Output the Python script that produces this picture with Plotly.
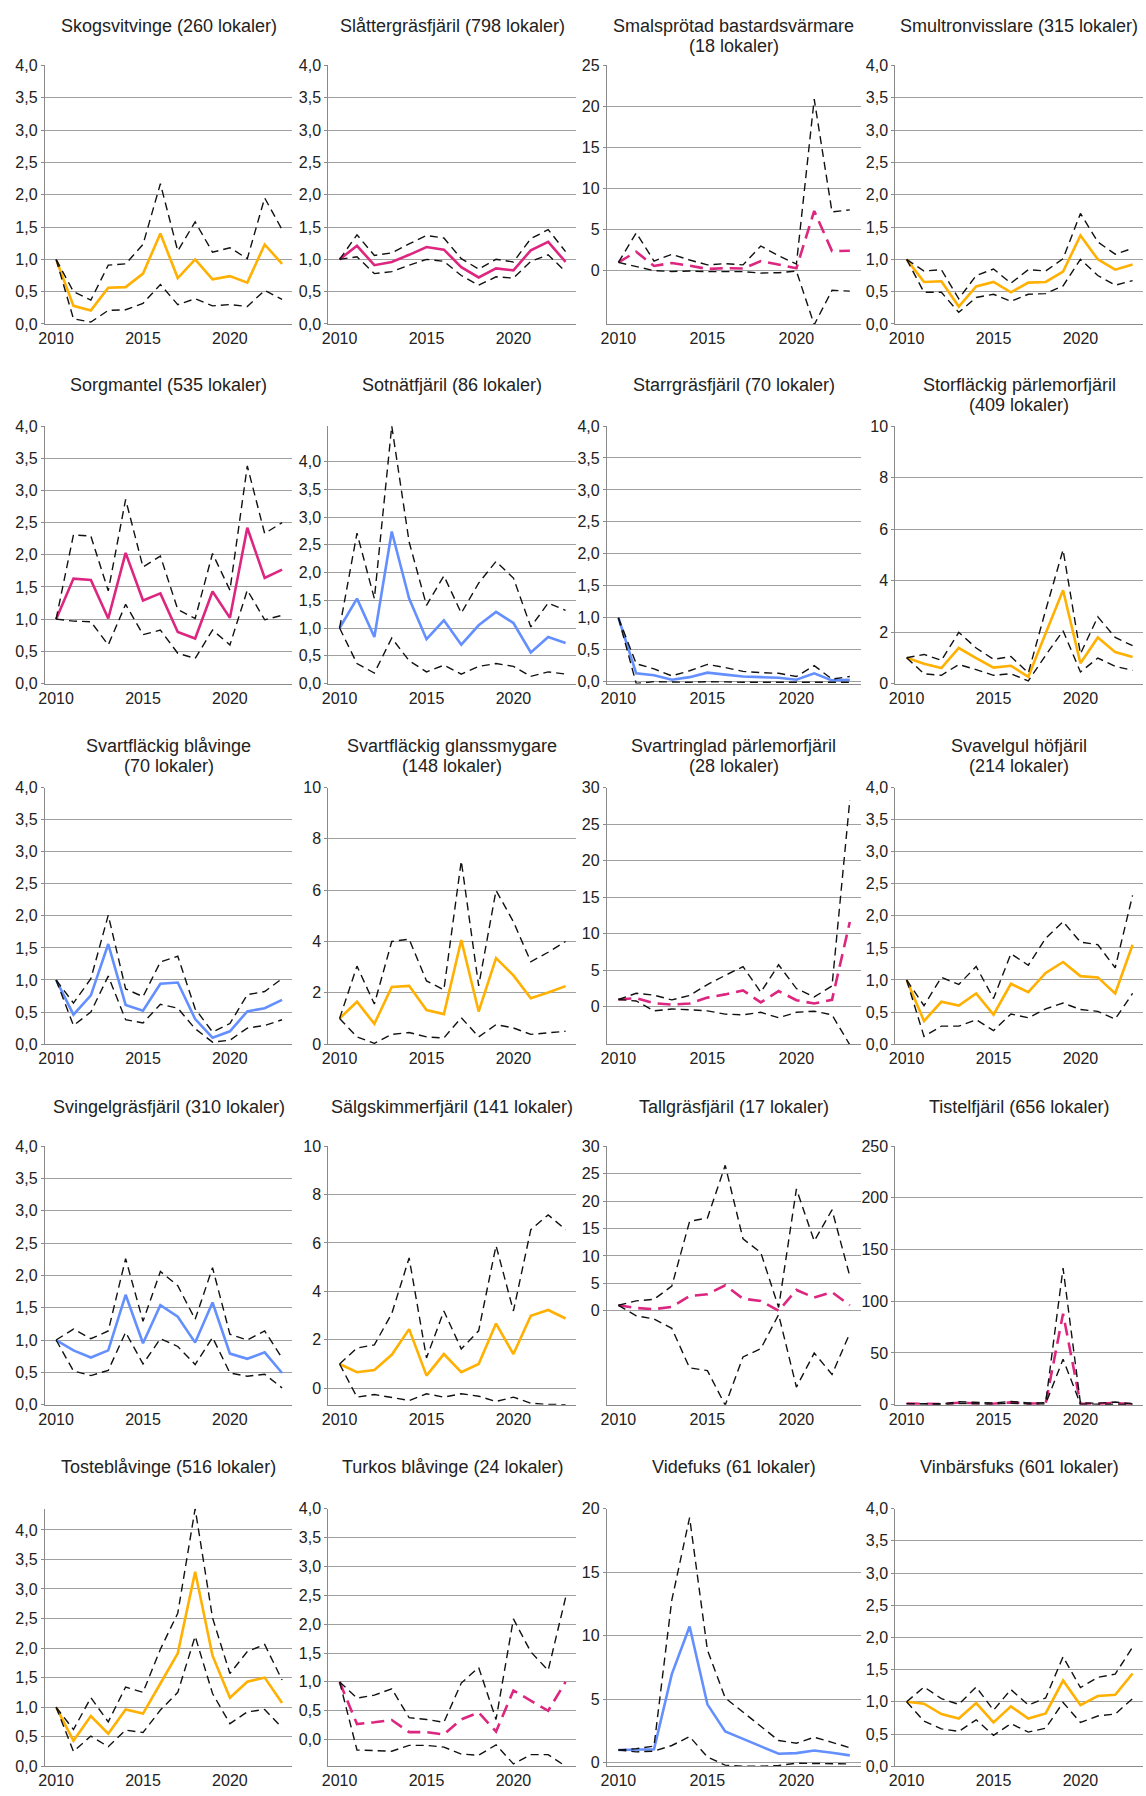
import plotly.graph_objects as go

years = list(range(2010, 2024))

species = ["Skogsvitvinge", "Slåttergräsfjäril", "Smalsprötad bastardsvärmare", "Smultronvisslare",
           "Sorgmantel", "Sotnätfjäril", "Starrgräsfjäril", "Storfläckig pärlemorfjäril",
           "Svartfläckig blåvinge", "Svartfläckig glanssmygare", "Svartringlad pärlemorfjäril", "Svavelgul höfjäril",
           "Svingelgräsfjäril", "Sälgskimmerfjäril", "Tallgräsfjäril", "Tistelfjäril",
           "Tosteblåvinge", "Turkos blåvinge", "Videfuks", "Vinbärsfuks"]
lokaler = [260, 798, 18, 315, 535, 86, 70, 409, 70, 148, 28, 214, 310, 141, 17, 656, 516, 24, 61, 601]
wrapped = {"Smalsprötad bastardsvärmare", "Storfläckig pärlemorfjäril", "Svartfläckig blåvinge",
           "Svartfläckig glanssmygare", "Svartringlad pärlemorfjäril", "Svavelgul höfjäril"}

skogsvitvinge_mid = [1.0, 0.28, 0.21, 0.56, 0.57, 0.78, 1.40, 0.71, 1.00, 0.69, 0.74, 0.64, 1.23, 0.93]
skogsvitvinge_hi = [1.0, 0.50, 0.37, 0.91, 0.93, 1.23, 2.17, 1.13, 1.58, 1.11, 1.18, 1.01, 1.95, 1.46]
skogsvitvinge_lo = [1.0, 0.08, 0.03, 0.21, 0.22, 0.32, 0.61, 0.30, 0.39, 0.28, 0.30, 0.27, 0.52, 0.38]

slattergras_mid = [1.0, 1.21, 0.91, 0.96, 1.07, 1.19, 1.15, 0.88, 0.72, 0.86, 0.83, 1.14, 1.27, 0.96]
slattergras_hi = [1.0, 1.38, 1.06, 1.10, 1.24, 1.37, 1.33, 1.01, 0.85, 1.00, 0.96, 1.32, 1.46, 1.12]
slattergras_lo = [1.0, 1.04, 0.78, 0.81, 0.91, 1.00, 0.97, 0.75, 0.60, 0.73, 0.71, 0.97, 1.07, 0.81]

smalsprotad_mid = [1.0, 2.3, 0.57, 0.93, 0.6, 0.2, 0.3, 0.25, 1.17, 0.7, 0.3, 7.27, 2.38, 2.42]
smalsprotad_hi = [1.0, 4.6, 1.17, 1.98, 1.3, 0.7, 0.85, 0.7, 3.0, 1.8, 0.8, 20.9, 7.15, 7.4]
smalsprotad_lo = [1.0, 0.5, 0.0, -0.1, -0.05, -0.12, -0.12, -0.12, -0.3, -0.25, -0.05, -6.6, -2.4, -2.5]

smultron_mid = [1.0, 0.65, 0.66, 0.27, 0.58, 0.65, 0.49, 0.64, 0.65, 0.81, 1.37, 1.00, 0.84, 0.92]
smultron_hi = [1.0, 0.82, 0.84, 0.39, 0.75, 0.85, 0.63, 0.84, 0.82, 1.01, 1.71, 1.27, 1.08, 1.17]
smultron_lo = [1.0, 0.49, 0.49, 0.18, 0.41, 0.46, 0.35, 0.46, 0.47, 0.59, 1.00, 0.75, 0.60, 0.67]

sorgmantel_mid = [1.0, 1.63, 1.61, 1.01, 2.03, 1.29, 1.40, 0.80, 0.70, 1.43, 1.02, 2.42, 1.64, 1.77]
sorgmantel_hi = [1.0, 2.31, 2.29, 1.44, 2.86, 1.81, 1.98, 1.15, 1.01, 2.02, 1.45, 3.38, 2.33, 2.50]
sorgmantel_lo = [1.0, 0.97, 0.96, 0.60, 1.23, 0.76, 0.83, 0.47, 0.39, 0.83, 0.60, 1.45, 0.99, 1.06]

sotnat_mid = [1.0, 1.53, 0.84, 2.74, 1.53, 0.80, 1.14, 0.70, 1.05, 1.29, 1.09, 0.56, 0.84, 0.73]
sotnat_hi = [1.0, 2.71, 1.53, 4.64, 2.55, 1.41, 1.94, 1.27, 1.81, 2.20, 1.90, 1.02, 1.45, 1.32]
sotnat_lo = [1.0, 0.36, 0.19, 0.82, 0.41, 0.21, 0.33, 0.17, 0.31, 0.36, 0.31, 0.13, 0.21, 0.17]

starrgras_mid = [1.0, 0.13, 0.10, 0.03, 0.07, 0.14, 0.11, 0.08, 0.07, 0.06, 0.03, 0.13, 0.02, 0.03]
starrgras_hi = [1.0, 0.28, 0.20, 0.09, 0.17, 0.27, 0.22, 0.16, 0.14, 0.13, 0.08, 0.25, 0.04, 0.08]
starrgras_lo = [1.0, -0.03, 0.0, -0.01, -0.01, 0.0, -0.01, -0.01, -0.01, -0.01, -0.01, -0.01, -0.01, -0.01]

storflackig_mid = [1.0, 0.77, 0.60, 1.38, 0.99, 0.62, 0.69, 0.26, 1.95, 3.62, 0.79, 1.79, 1.22, 1.03]
storflackig_hi = [1.0, 1.13, 0.90, 1.99, 1.38, 0.94, 1.05, 0.41, 2.85, 5.19, 1.15, 2.59, 1.79, 1.47]
storflackig_lo = [1.0, 0.38, 0.32, 0.74, 0.54, 0.32, 0.38, 0.10, 1.10, 2.05, 0.45, 0.99, 0.67, 0.51]

svartfl_blav_mid = [1.0, 0.46, 0.76, 1.56, 0.61, 0.52, 0.94, 0.96, 0.39, 0.10, 0.20, 0.51, 0.56, 0.69]
svartfl_blav_hi = [1.0, 0.64, 1.02, 2.01, 0.86, 0.74, 1.28, 1.37, 0.55, 0.19, 0.32, 0.77, 0.82, 1.02]
svartfl_blav_lo = [1.0, 0.29, 0.50, 1.06, 0.38, 0.33, 0.62, 0.56, 0.24, 0.03, 0.06, 0.25, 0.29, 0.38]

glanssmygare_mid = [1.0, 1.65, 0.79, 2.23, 2.27, 1.33, 1.17, 4.06, 1.27, 3.35, 2.68, 1.79, 2.01, 2.26]
glanssmygare_hi = [1.0, 3.04, 1.56, 4.00, 4.09, 2.46, 2.12, 7.14, 2.27, 5.99, 4.77, 3.21, 3.58, 4.00]
glanssmygare_lo = [1.0, 0.28, 0.03, 0.38, 0.45, 0.28, 0.24, 1.03, 0.28, 0.76, 0.63, 0.38, 0.44, 0.50]

svartringlad_mid = [1.0, 1.2, 0.5, 0.3, 0.45, 1.26, 1.7, 2.25, 0.6, 2.15, 0.9, 0.45, 0.95, 11.6]
svartringlad_hi = [1.0, 1.85, 1.6, 0.95, 1.55, 3.05, 4.3, 5.5, 2.0, 5.75, 2.5, 1.35, 2.85, 28.3]
svartringlad_lo = [1.0, 0.8, -0.55, -0.3, -0.4, -0.55, -1.0, -1.1, -0.75, -1.5, -0.75, -0.6, -1.1, -5.2]

svavelgul_mid = [1.0, 0.36, 0.66, 0.60, 0.79, 0.46, 0.94, 0.81, 1.11, 1.28, 1.06, 1.04, 0.79, 1.55]
svavelgul_hi = [1.0, 0.60, 1.04, 0.93, 1.21, 0.71, 1.41, 1.23, 1.65, 1.91, 1.59, 1.55, 1.19, 2.32]
svavelgul_lo = [1.0, 0.12, 0.28, 0.28, 0.38, 0.21, 0.47, 0.41, 0.55, 0.64, 0.54, 0.51, 0.39, 0.79]

svingelgras_mid = [1.0, 0.84, 0.73, 0.84, 1.70, 0.95, 1.54, 1.36, 0.96, 1.58, 0.79, 0.71, 0.81, 0.49]
svingelgras_hi = [1.0, 1.17, 1.02, 1.14, 2.26, 1.29, 2.06, 1.84, 1.32, 2.12, 1.09, 1.00, 1.14, 0.72]
svingelgras_lo = [1.0, 0.52, 0.45, 0.53, 1.12, 0.63, 1.02, 0.90, 0.62, 1.04, 0.49, 0.44, 0.47, 0.26]

salgskimmer_mid = [1.0, 0.66, 0.75, 1.38, 2.44, 0.52, 1.41, 0.66, 1.00, 2.67, 1.41, 2.99, 3.23, 2.88]
salgskimmer_hi = [1.0, 1.66, 1.79, 3.08, 5.38, 1.25, 3.19, 1.62, 2.37, 5.89, 3.19, 6.55, 7.16, 6.55]
salgskimmer_lo = [1.0, -0.37, -0.26, -0.37, -0.51, -0.23, -0.37, -0.23, -0.33, -0.55, -0.37, -0.62, -0.67, -0.68]

tallgras_mid = [1.0, 0.5, 0.3, 0.7, 2.7, 3.0, 4.65, 2.2, 1.8, 0.0, 3.8, 2.4, 3.4, 1.0]
tallgras_hi = [1.0, 1.8, 2.1, 4.5, 16.3, 16.9, 26.5, 13.1, 10.6, 0.6, 22.2, 12.7, 18.4, 6.3]
tallgras_lo = [1.0, -0.9, -1.5, -3.2, -10.4, -10.9, -17.2, -8.4, -6.9, -0.7, -13.9, -7.7, -11.6, -4.1]

tistel_mid = [1.0, 0.6, 0.5, 1.8, 1.3, 0.9, 2.2, 1.0, 1.2, 88.0, 1.0, 0.9, 1.6, 0.4]
tistel_hi = [1.0, 1.0, 0.8, 2.8, 2.0, 1.5, 3.2, 1.6, 1.8, 132.0, 1.6, 1.4, 2.5, 0.8]
tistel_lo = [1.0, 0.3, 0.3, 1.1, 0.7, 0.5, 1.4, 0.6, 0.7, 44.0, 0.6, 0.5, 1.0, 0.2]

toste_mid = [1.0, 0.43, 0.85, 0.55, 0.96, 0.89, 1.40, 1.91, 3.29, 1.87, 1.16, 1.43, 1.50, 1.07]
toste_hi = [1.0, 0.62, 1.16, 0.75, 1.34, 1.25, 1.98, 2.59, 4.36, 2.51, 1.57, 1.94, 2.06, 1.46]
toste_lo = [1.0, 0.25, 0.51, 0.33, 0.61, 0.57, 0.95, 1.25, 2.20, 1.23, 0.72, 0.92, 0.96, 0.65]

turkos_mid = [1.0, 0.27, 0.30, 0.34, 0.13, 0.13, 0.09, 0.35, 0.47, 0.14, 0.85, 0.67, 0.50, 1.00]
turkos_hi = [1.0, 0.72, 0.77, 0.88, 0.38, 0.35, 0.30, 0.98, 1.25, 0.35, 2.09, 1.52, 1.20, 2.46]
turkos_lo = [1.0, -0.18, -0.19, -0.20, -0.10, -0.10, -0.13, -0.25, -0.27, -0.09, -0.42, -0.26, -0.26, -0.46]

videfuks_mid = [1.0, 1.0, 1.05, 6.97, 10.72, 4.59, 2.46, 1.87, 1.27, 0.70, 0.75, 0.96, 0.78, 0.57]
videfuks_hi = [1.0, 1.1, 1.3, 12.8, 19.3, 8.86, 5.1, 4.0, 2.9, 1.74, 1.53, 2.0, 1.6, 1.17]
videfuks_lo = [1.0, 0.85, 0.9, 1.35, 2.05, 0.45, -0.2, -0.28, -0.28, -0.22, -0.05, -0.05, -0.1, -0.1]

vinbarsfuks_mid = [1.0, 0.97, 0.81, 0.74, 0.98, 0.68, 0.93, 0.74, 0.82, 1.33, 0.95, 1.09, 1.11, 1.44]
vinbarsfuks_hi = [1.0, 1.23, 1.05, 0.96, 1.23, 0.87, 1.19, 0.95, 1.06, 1.70, 1.22, 1.38, 1.43, 1.85]
vinbarsfuks_lo = [1.0, 0.70, 0.58, 0.54, 0.72, 0.48, 0.66, 0.53, 0.59, 0.99, 0.68, 0.78, 0.81, 1.05]

series = [
    (skogsvitvinge_mid, skogsvitvinge_hi, skogsvitvinge_lo),
    (slattergras_mid, slattergras_hi, slattergras_lo),
    (smalsprotad_mid, smalsprotad_hi, smalsprotad_lo),
    (smultron_mid, smultron_hi, smultron_lo),
    (sorgmantel_mid, sorgmantel_hi, sorgmantel_lo),
    (sotnat_mid, sotnat_hi, sotnat_lo),
    (starrgras_mid, starrgras_hi, starrgras_lo),
    (storflackig_mid, storflackig_hi, storflackig_lo),
    (svartfl_blav_mid, svartfl_blav_hi, svartfl_blav_lo),
    (glanssmygare_mid, glanssmygare_hi, glanssmygare_lo),
    (svartringlad_mid, svartringlad_hi, svartringlad_lo),
    (svavelgul_mid, svavelgul_hi, svavelgul_lo),
    (svingelgras_mid, svingelgras_hi, svingelgras_lo),
    (salgskimmer_mid, salgskimmer_hi, salgskimmer_lo),
    (tallgras_mid, tallgras_hi, tallgras_lo),
    (tistel_mid, tistel_hi, tistel_lo),
    (toste_mid, toste_hi, toste_lo),
    (turkos_mid, turkos_hi, turkos_lo),
    (videfuks_mid, videfuks_hi, videfuks_lo),
    (vinbarsfuks_mid, vinbarsfuks_hi, vinbarsfuks_lo),
]

# ---- styling / axis configuration ----
BLUE, MAGENTA, ORANGE = "#648FFF", "#DC267F", "#FFB000"
main_color = [ORANGE, MAGENTA, MAGENTA, ORANGE, MAGENTA, BLUE, BLUE, ORANGE, BLUE, ORANGE,
              MAGENTA, ORANGE, BLUE, ORANGE, MAGENTA, MAGENTA, ORANGE, MAGENTA, BLUE, ORANGE]
main_dashed = [False, False, True, False, False, False, False, False, False, False,
               True, False, False, False, True, True, False, True, False, False]

t04 = [0, 0.5, 1, 1.5, 2, 2.5, 3, 3.5, 4]
t10 = [0, 2, 4, 6, 8, 10]
t25 = [0, 5, 10, 15, 20, 25]
t30 = [0, 5, 10, 15, 20, 25, 30]
t20 = [0, 5, 10, 15, 20]
t250 = [0, 50, 100, 150, 200, 250]
axis_cfg = [
    ([0, 4], t04, ".1f"), ([0, 4], t04, ".1f"), ([-6.5, 25], t25, "d"), ([0, 4], t04, ".1f"),
    ([0, 4], t04, ".1f"), ([0, 4.64], t04, ".1f"), ([-0.03, 4], t04, ".1f"), ([0, 10], t10, "d"),
    ([0, 4], t04, ".1f"), ([0, 10], t10, "d"), ([-5.1, 30], t30, "d"), ([0, 4], t04, ".1f"),
    ([0, 4], t04, ".1f"), ([-0.68, 10], t10, "d"), ([-17.1, 30], t30, "d"), ([0, 250], t250, "d"),
    ([0, 4.36], t04, ".1f"), ([-0.46, 4], t04, ".1f"), ([-0.28, 20], t20, "d"), ([0, 4], t04, ".1f"),
]

W, H = 1146, 1796
cols_px = [(39, 288), (324, 573), (604, 859), (894, 1143)]
rows_px = [(58, 319), (422, 682), (787, 1046), (1149, 1410), (1515, 1775)]
title_px = [18, 381, 745, 1109, 1473]
XRANGE = [2009.35, 2023.6]
FONT = "Liberation Sans, Arial, sans-serif"
GRID = "#a0a0a0"

fig = go.Figure()
annotations = []
for i, (mid, hi, lo) in enumerate(series):
    r, c = divmod(i, 4)
    n = i + 1
    xa = "x" if n == 1 else f"x{n}"
    ya = "y" if n == 1 else f"y{n}"
    fig.add_trace(go.Scatter(x=years, y=mid, mode="lines", xaxis=xa, yaxis=ya, showlegend=False,
                             line=dict(color=main_color[i], width=2.6,
                                       dash="13px,7px" if main_dashed[i] else "solid")))
    for band in (hi, lo):
        fig.add_trace(go.Scatter(x=years, y=band, mode="lines", xaxis=xa, yaxis=ya, showlegend=False,
                                 line=dict(color="#111111", width=1.4, dash="8px,5px")))
    x0, x1 = cols_px[c]
    y0, y1 = rows_px[r]
    yr, tv, tf = axis_cfg[i]
    fig.layout[f"xaxis{'' if n == 1 else n}"] = dict(
        domain=[x0 / W, x1 / W], anchor=ya, range=XRANGE, tickvals=[2010, 2015, 2020],
        showgrid=False, zeroline=False, showline=True, linecolor="#8a8a8a", linewidth=1,
        ticks="", tickfont=dict(size=16, color="#222222", family=FONT))
    fig.layout[f"yaxis{'' if n == 1 else n}"] = dict(
        domain=[1 - y1 / H, 1 - y0 / H], anchor=xa, range=yr, tickvals=tv, tickformat=tf,
        showgrid=True, gridcolor=GRID, gridwidth=1.3, zeroline=False, showline=True,
        linecolor="#8a8a8a", linewidth=1, ticks="outside", ticklen=3, tickcolor="#8a8a8a",
        tickfont=dict(size=16, color="#222222", family=FONT))
    name = species[i]
    cx = (x0 + x1) / 2 / W
    if name in wrapped:
        lines = [name, f"({lokaler[i]} lokaler)"]
    else:
        lines = [f"{name} ({lokaler[i]} lokaler)"]
    for k, txt in enumerate(lines):
        annotations.append(dict(text=txt, x=cx, y=1 - (title_px[r] + 20 * k) / H, xref="paper", yref="paper",
                                xanchor="center", yanchor="middle", showarrow=False,
                                font=dict(size=18, color="#222222", family=FONT)))

fig.update_layout(width=W, height=H, margin=dict(l=0, r=0, t=0, b=0), paper_bgcolor="white",
                  plot_bgcolor="white", separators=", ", annotations=annotations,
                  font=dict(family=FONT, color="#222222"))
fig.write_html("out.html", config={"displayModeBar": False},
               post_script="document.documentElement.style.margin='0';document.body.style.margin='0';document.body.style.overflow='hidden';")
